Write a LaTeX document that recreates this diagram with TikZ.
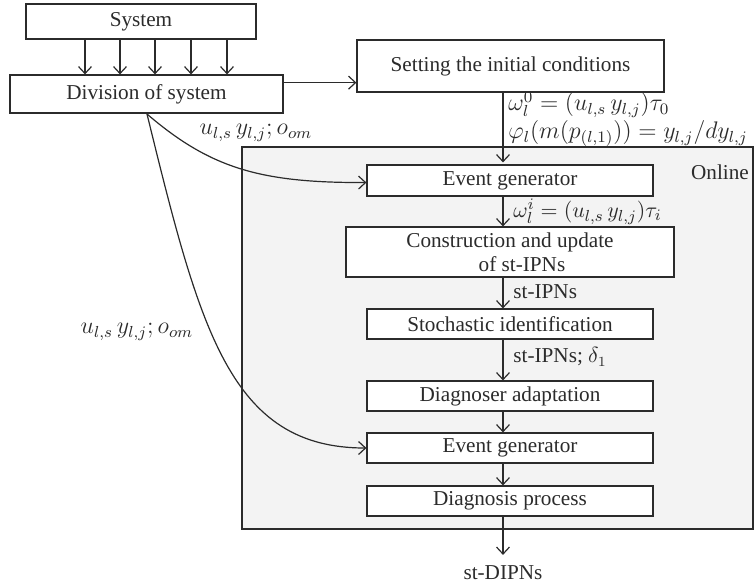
\documentclass[tikz,border=0pt]{standalone}
\usepackage{fontspec}
\setmainfont{Liberation Serif}
\usetikzlibrary{arrows.meta,calc}
\definecolor{ink}{HTML}{2B2B2B}
\definecolor{panel}{HTML}{F3F3F3}
\begin{document}
\begin{tikzpicture}[x=0.5pt,y=-0.5pt,
  every node/.style={font=\fontsize{10.6}{12}\selectfont,text=ink},
  box/.style={draw=ink,line width=0.6pt,fill=white,inner sep=0pt,align=center},
  lbl/.style={inner sep=0pt,anchor=west},
  mth/.style={font=\fontsize{12}{12}\selectfont},
  arr/.style={draw=ink,line width=0.6pt,-{Straight Barb[length=3.5pt,width=6.5pt]}}]
\useasboundingbox (0,0) rectangle (755,586);
\node[draw=ink,line width=0.6pt,fill=panel,minimum width=255.5pt,minimum height=191pt,inner sep=0pt] (online) at (497.5,338) {};
\node[anchor=center] (onl) at (720,172) {Online};
\node[box,minimum width=115pt,minimum height=17.5pt] (sys) at (141,21.5) {System};
\node[box,minimum width=136.5pt,minimum height=19pt] (div) at (146.5,94) {Division of system};
\node[box,minimum width=153.5pt,minimum height=26pt] (set) at (510.5,66) {Setting the initial conditions};
\node[box,minimum width=143pt,minimum height=15.5pt] (eg1) at (510,180.5) {Event generator};
\node[box,minimum width=164pt,minimum height=25pt] (con) at (510,252) {Construction and update\\\hspace*{12pt}of st-IPNs};
\node[box,minimum width=143pt,minimum height=15pt] (sto) at (510,324) {Stochastic identification};
\node[box,minimum width=143pt,minimum height=15pt] (dad) at (510,396) {Diagnoser adaptation};
\node[box,minimum width=143pt,minimum height=15pt] (eg2) at (510,448) {Event generator};
\node[box,minimum width=143pt,minimum height=15pt] (dia) at (510,501) {Diagnosis process};
\node (out) at (503,573) {st-DIPNs};
\coordinate (ax) at (503,0);
% system to division arrows
\foreach \xx in {85,120,155,191,227}{
  \coordinate (sa) at (\xx,0);
  \draw[arr] (sys.south -| sa) -- (div.north -| sa);
}
% division to setting
\coordinate (dp) at ($(div.north east)!0.21!(div.south east)$);
\draw[arr] (dp) -- (dp -| set.west);
% vertical chain
\draw[arr] (set.south -| ax) -- ([yshift=1pt]eg1.north -| ax);
\draw[arr] (eg1.south -| ax) -- (con.north -| ax);
\draw[arr] (con.south -| ax) -- (sto.north -| ax);
\draw[arr] (sto.south -| ax) -- (dad.north -| ax);
\draw[arr] (dad.south -| ax) -- (eg2.north -| ax);
\draw[arr] (eg2.south -| ax) -- (dia.north -| ax);
\draw[arr] (dia.south -| ax) -- ([yshift=2pt]out.north -| ax);
% labels
\node[lbl,mth,align=left] (l0) at (508,119) {$\omega_l^0=(u_{l,s}\,y_{l,j})\tau_0$\\[0.5pt]$\varphi_l(m(p_{(l,1)}))=y_{l,j}/dy_{l,j}$};
\node[lbl,font=\fontsize{11}{11}\selectfont] (l2) at (513,211.5) {$\omega_l^i=(u_{l,s}\,y_{l,j})\tau_i$};
\node[lbl] (l3) at (513,292) {st-IPNs};
\node[lbl] (l4) at (513,357) {st-IPNs; $\delta_1$};
% curves
\coordinate (cs) at (147,114);
\draw[arr] (cs) .. controls (210,168) and (260,183) .. ([yshift=-1pt]eg1.west);
\draw[arr] (cs) .. controls (200,330) and (230,448) .. (eg2.west);
\node[mth] (u1) at (256,133) {$u_{l,s}\,y_{l,j};o_{om}$};
\node[mth] (u2) at (137,332) {$u_{l,s}\,y_{l,j};o_{om}$};
\end{tikzpicture}
\end{document}
